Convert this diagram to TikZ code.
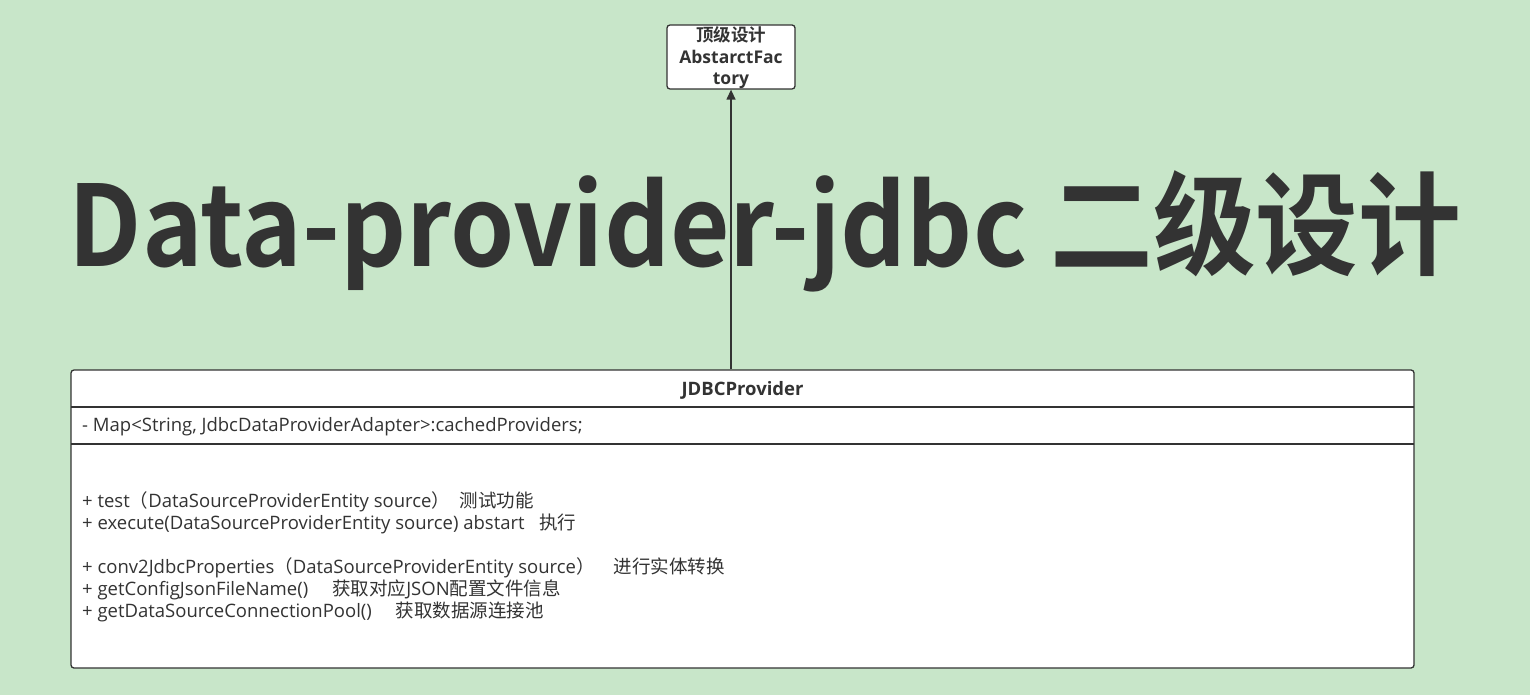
\documentclass[tikz,border=0pt]{standalone}
\usepackage{fontspec}
\setmainfont{Open Sans}
\newfontfamily\cjk{Noto Sans CJK SC}
\newfontfamily\cjkbold{Noto Sans CJK SC Bold}
\newfontfamily\osbold{Open Sans Bold}
\newcommand{\zh}[1]{{\cjk #1}}
\usetikzlibrary{arrows.meta}
\definecolor{bgc}{HTML}{C8E6C9}
\definecolor{ink}{HTML}{333333}
\begin{document}
\begin{tikzpicture}[x=1pt,y=-1pt,
  txt/.style={inner sep=0pt,text=ink,font=\fontsize{18.5}{22}\selectfont},
  boxline/.style={draw=ink,line width=1.3pt},
]
\useasboundingbox (0,0) rectangle (1530,695);
\fill[bgc] (0,0) rectangle (1530,695);
% top box
\node[boxline,fill=white,rounded corners=3pt,minimum width=128pt,minimum height=64pt,inner sep=0pt] (top) at (731,57) {};
\node[txt,font=\osbold\fontsize{17.5}{21.5}\selectfont,align=center] (toptxt) at (731,58) {{\cjkbold 顶级设计}\\AbstarctFac\\tory};
% title
\node[inner sep=0pt,text=ink,font=\cjkbold\fontsize{112}{120}\selectfont,anchor=base] (title) at (765,266) {\scalebox{0.917}[1]{Data-provider-jdbc 二级设计}};
% class box
\node[boxline,fill=white,rounded corners=3pt,minimum width=1343pt,minimum height=298pt,inner sep=0pt] (cls) at (742.5,519) {};
\coordinate (d1l) at (71,407); \coordinate (d1r) at (1414,407);
\coordinate (d2l) at (71,444); \coordinate (d2r) at (1414,444);
\draw[ink,line width=1.3pt] (d1l) -- (d1r);
\draw[ink,line width=1.3pt] (d2l) -- (d2r);
\node[txt,font=\osbold\fontsize{18.5}{22}\selectfont] (cname) at (742.5,390) {JDBCProvider};
\node[txt,anchor=west] (attr) at (82,427) {- Map<String, JdbcDataProviderAdapter>:cachedProviders;};
\node[txt,anchor=north west,align=left] (meth) at (82,491.5) {+ test\zh{（}DataSourceProviderEntity source\zh{）}\ \ \zh{测试功能}\\
+ execute(DataSourceProviderEntity source) abstart\ \ \ \zh{执行}\\[22pt]
+ conv2JdbcProperties\zh{（}DataSourceProviderEntity source\zh{）}\ \ \ \ \zh{进行实体转换}\\
+ getConfigJsonFileName()\ \ \ \ \ \zh{获取对应}JSON\zh{配置文件信息}\\
+ getDataSourceConnectionPool()\ \ \ \ \ \zh{获取数据源连接池}};
% arrow
\draw[ink,line width=1.3pt,-{Triangle[length=10pt,width=9pt]}] (cls.north -| top.south) -- (top.south);
\end{tikzpicture}
\end{document}
